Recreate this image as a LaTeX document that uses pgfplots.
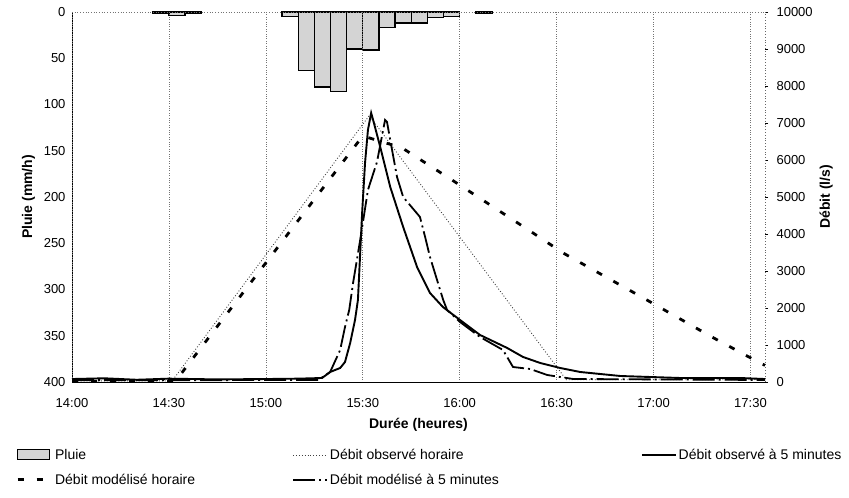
\documentclass[border=0pt]{standalone}
\usepackage{fontspec}
\setmainfont{Liberation Sans}
\usepackage{pgfplots}
\pgfplotsset{compat=1.18}
\begin{document}
\begin{tikzpicture}[font=\fontsize{13}{15}\selectfont]
\pgfplotsset{
  common/.style={scale only axis, width=693pt, height=370pt, xmin=0, xmax=214.5,
    /pgf/number format/assume math mode=true, clip=false},
  obsh/.style={black!75, dotted, line width=0.9pt},
  obs5/.style={black, solid, line width=1.9pt},
  modh/.style={black, line width=2.8pt, dash pattern=on 6pt off 13pt},
  mod5/.style={black, line width=1.8pt, dash pattern=on 22pt off 4pt on 2pt off 4pt},
}
% rain axis (left, reversed)
\begin{axis}[common,
  ymin=0, ymax=400, y dir=reverse,
  axis x line=none, axis y line*=left,
  ytick={0,50,...,400}, major tick length=0pt,
  y axis line style={black, line width=0.8pt},
  ylabel={\bfseries\fontsize{14}{16}\selectfont Pluie (mm/h)},
  ylabel style={yshift=2pt},
  yticklabel style={xshift=-3pt},
]
\addplot[ybar, bar width=5, bar shift=0pt, fill=black!17, draw=black, line width=1.2pt]
 coordinates {(27.5,2) (32.5,4) (37.5,2) (67.5,5) (72.5,63) (77.5,81) (82.5,86) (87.5,40)
  (92.5,41) (97.5,17) (102.5,12) (107.5,12) (112.5,6) (117.5,5) (127.5,2)};
\end{axis}
% flow axis (right)
\begin{axis}[common,
  ymin=0, ymax=10000,
  axis x line*=bottom, axis y line*=right,
  xtick={0,30,...,210}, xticklabels={14:00,14:30,15:00,15:30,16:00,16:30,17:00,17:30},
  xmajorgrids, grid style={black!55, dotted, line width=0.7pt},
  ytick={0,1000,...,10000},
  scaled y ticks=false,
  yticklabel style={/pgf/number format/1000 sep={}, xshift=5pt},
  xtick style={draw=none},
  ytick style={black, solid, line width=0.5pt},
  tick align=outside, major tick length=3pt,
  x axis line style={black, line width=0.6pt},
  y axis line style={black!60, dotted, line width=0.8pt},
  xticklabel style={yshift=-10pt},
  xlabel={\bfseries\fontsize{14}{16}\selectfont Durée (heures)},
  xlabel style={yshift=-4pt},
  ylabel={\bfseries\fontsize{14}{16}\selectfont Débit (l/s)},
  ylabel style={yshift=0pt},
  legend columns=3,
  legend cell align=left,
  legend style={draw=none, fill=none, at={(-0.085,-0.17)}, anchor=north west,
    font=\fontsize{14}{16}\selectfont, row sep=9pt,
    /tikz/column 2/.style={column sep=95pt},
    /tikz/column 4/.style={column sep=140pt}},
  legend image code/.code={\draw[#1] (0pt,0pt) -- (34pt,0pt);},
]
\draw[black!55, dotted, line width=0.7pt] (rel axis cs:0,1) -- (rel axis cs:1,1);
\path (rel axis cs:-0.1039,1.0324) coordinate (tl) (rel axis cs:1.1212,-0.3135) coordinate (br);
\addlegendimage{legend image code/.code={\draw[fill=black!17, draw=black, line width=1pt] (0pt,-5pt) rectangle (32pt,5pt);}}
\addlegendentry{Pluie}
\addplot[obsh] coordinates {(0,30) (31,30) (92,7200) (153,60) (214.5,60)};
\addlegendentry{Débit observé horaire}
\addplot[obs5] coordinates {(0,80) (10,100) (20,60) (30,90) (45,70) (60,80) (70,90) (77.4,108)
 (79.9,270) (83.0,378) (84.5,540) (86.1,1054) (87.6,1676) (88.5,2216) (89.8,4568) (90.7,5920)
 (91.6,6812) (92.6,7271) (93.2,7082) (95.4,6352) (98.5,5271) (102.5,4190) (106.8,3108)
 (110.8,2406) (114.8,2027) (120.1,1676) (126.3,1270) (134.7,919) (139.6,676) (144.9,514)
 (151.1,378) (157.3,270) (169.7,162) (188.2,108) (206.8,108) (214.5,80)};
\addlegendentry{Débit observé à 5 minutes}
\addplot[modh] coordinates {(0,20) (32,20) (90,6650) (102.2,6325) (117.6,5460) (142.7,4027)
 (152,3487) (177.4,2243) (197.5,1243) (212.4,540) (214.5,450)};
\addlegendentry{Débit modélisé horaire}
\addplot[mod5] coordinates {(0,50) (40,50) (76.2,54) (79.9,270) (83.0,865) (84.5,1487) (85.8,1946)
 (87.0,2676) (89.2,3838) (91.6,5190) (94.4,5947) (96.9,7082) (97.5,7028) (98.5,6541)
 (100.6,5541) (102.5,5000) (107.7,4460) (109.3,3919) (110.8,3379) (114.9,2216) (116.1,1946)
 (120.1,1622) (126.3,1216) (133.4,865) (136.5,405) (141.8,351) (147.1,189) (155.1,81) (214.5,54)};
\addlegendentry{Débit modélisé à 5 minutes}
\end{axis}
\pgfresetboundingbox
\path[use as bounding box] (tl) rectangle (br);
\end{tikzpicture}
\end{document}
